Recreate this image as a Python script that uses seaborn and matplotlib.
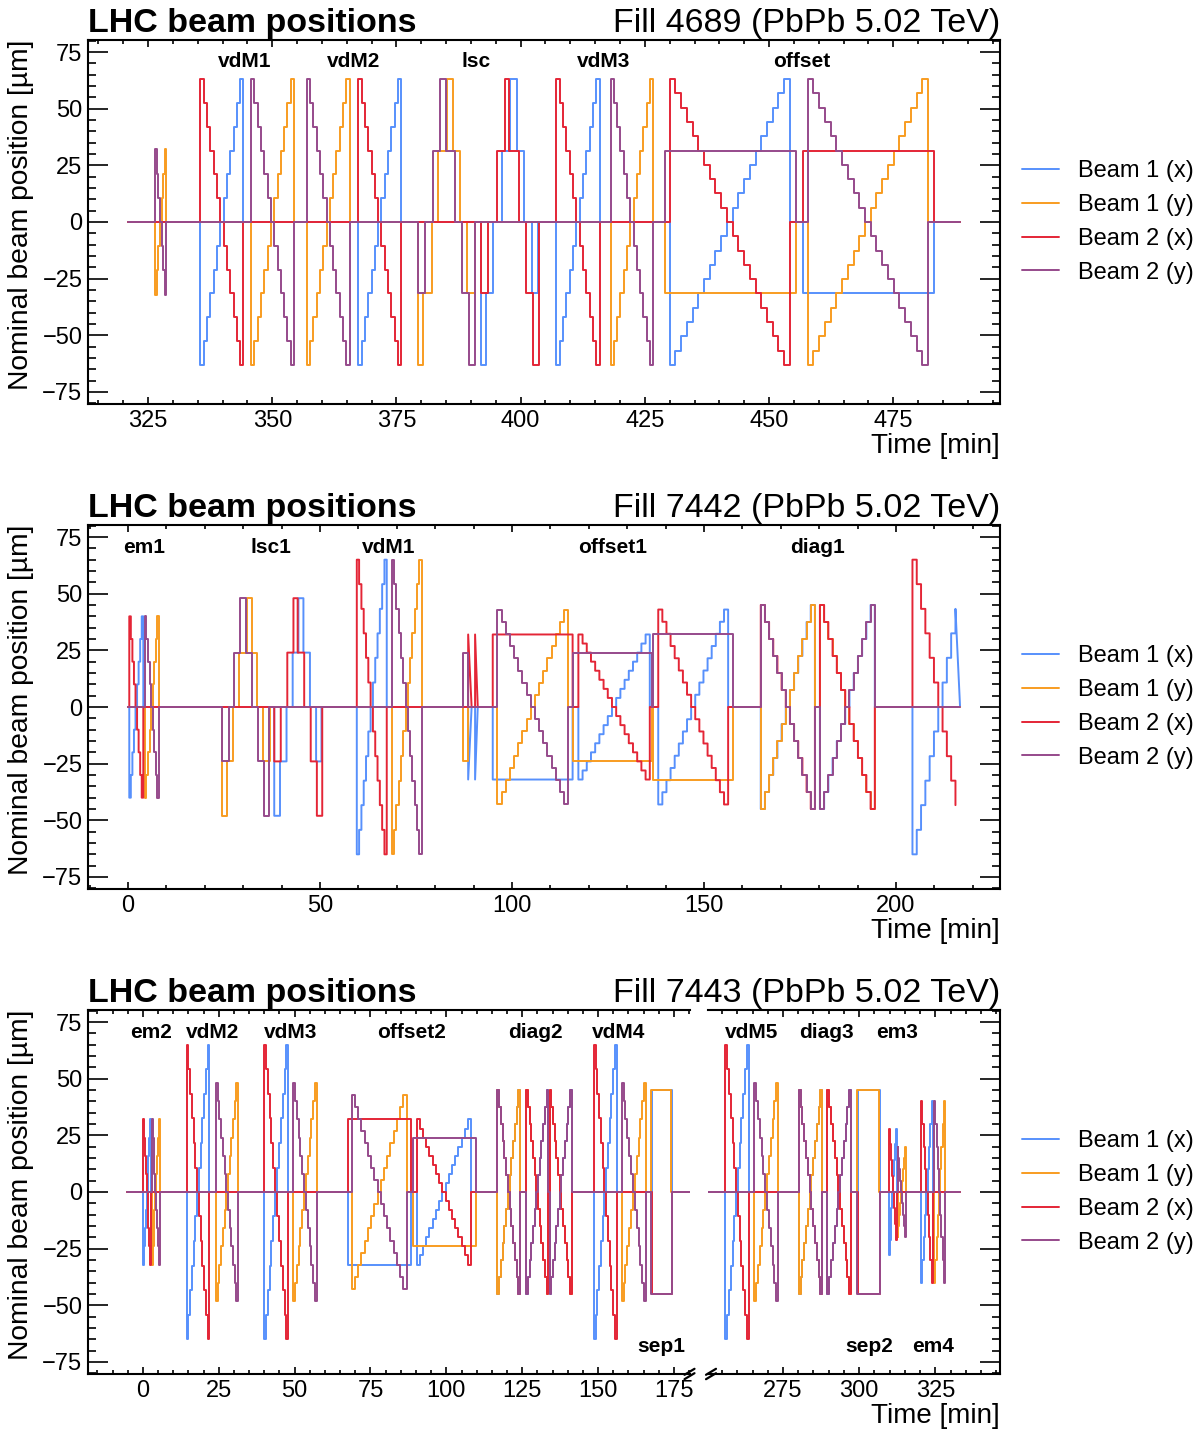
import numpy as np
import pandas as pd
import matplotlib
matplotlib.use("Agg")
import matplotlib.pyplot as plt
from matplotlib.ticker import MultipleLocator, FixedLocator
from matplotlib.lines import Line2D
import seaborn as sns

sns.set_style("ticks")
plt.rcParams["font.family"] = ["Liberation Sans", "DejaVu Sans"]
plt.rcParams.update({"text.color": "black", "axes.labelcolor": "black",
                     "xtick.color": "black", "ytick.color": "black",
                     "axes.edgecolor": "black"})

BEAMS = ["Beam 1 (x)", "Beam 1 (y)", "Beam 2 (x)", "Beam 2 (y)"]
COLORS = ["#5790fc", "#f89c20", "#e42536", "#964a8b"]
B1X, B1Y, B2X, B2Y = 0, 1, 2, 3

# ------------------------------------------------------------------ levels (µm)
EM_4689 = [32, 21, 10.5, 0, -10.5, -21, -32]
VDM_4689 = [63, 52.5, 42, 31.5, 21, 10.5, 0, -10.5, -21, -31.5, -42, -52.5, -63]
OFF_4689 = [63, 56.7, 50.4, 44.1, 37.8, 31.5, 25.2, 18.9, 12.6, 6.3, 0,
            -6.3, -12.6, -18.9, -25.2, -31.5, -37.8, -44.1, -50.4, -56.7, -63]
LSC_4689_B1 = [-63, -31.5, 0, 31.5, 63, 31.5, 0, -31.5]
LSC_4689_B2 = [-31.5, 0, 31.5, 63, 31.5, 0, -31.5, -63]
LSC_Y_T_4689_B1 = [379.3, 380.4, 382.1, 383.4, 385.1, 386.3, 387.8, 389.1]
LSC_Y_T_4689_B2 = [379.3, 380.7, 382.3, 383.8, 385.0, 386.8, 388.1, 389.6]
LSC_X_T_4689_B1 = [392.0, 393.1, 394.5, 396.3, 397.8, 399.2, 400.7, 402.2]
LSC_X_T_4689_B2 = [392.0, 393.5, 395.3, 396.8, 397.7, 399.7, 401.1, 402.5]

EM_7442 = [40, 30, 20, 10, 0, -10, -20, -30, -40]
VDM_7442 = [65, 54.2, 43.3, 32.5, 21.7, 10.8, 0, -10.8, -21.7, -32.5, -43.3, -54.2, -65]
LSC_7442_B1 = [-48, -24, 0, 24, 48, 24, 0, -24]
LSC_7442_B2 = [-24, 0, 24, 48, 24, 0, -24, -48]
LSC_Y_T_7442_B1 = [24.4, 25.9, 27.4, 28.9, 30.9, 32.2, 33.7, 35.2]
LSC_Y_T_7442_B2 = [24.4, 26.2, 27.6, 29.2, 30.7, 32.4, 33.9, 35.4]
LSC_X_T_7442_B1 = [38.1, 39.6, 41.3, 42.9, 44.4, 45.7, 47.4, 49.0]
LSC_X_T_7442_B2 = [38.1, 39.8, 41.5, 43.1, 44.2, 45.9, 47.6, 49.2]
OFF43 = [43, 37.6, 32.3, 26.9, 21.5, 16.1, 10.8, 5.4, 0,
         -5.4, -10.8, -16.1, -21.5, -26.9, -32.3, -37.6, -43]
OFF32 = [32, 28, 24, 20, 16, 12, 8, 4, 0, -4, -8, -12, -16, -20, -24, -28, -32]
DIAG45 = [45, 37.5, 30, 22.5, 15, 7.5, 0, -7.5, -15, -22.5, -30, -37.5, -45]
FINAL_7442_B2 = [65, 54.2, 43.3, 32.5, 21.7, 10.8, 0, -10.8, -21.7, -32.5, -43.3]
FINAL_7442_B1 = [-65, -54.2, -43.3, -32.5, -21.7, -10.8, 0, 10.8, 21.7, 32.5, 43.3]

EM_7443 = [32, 24, 16, 8, 0, -8, -16, -24, -32]
VDMX_7443 = [65, 54.2, 43.3, 32.5, 21.7, 10.8, 0, -10.8, -21.7, -32.5, -43.3, -54.2, -65]
VDMY_7443 = [48, 40, 32, 24, 16, 8, 0, -8, -16, -24, -32, -40, -48]
EM3X_7443 = [28, 21, 14, 7, 0, -7, -14, -21]
EM3X_7443_B1 = [-28, -21, -14, -7, 0, 7, 14, 21, 28]
EM3Y_7443 = [20, 15, 10, 5, 0, -5, -10, -15, -20]
EM4_7443 = [40, 30, 20, 10, 0, -10, -20, -30, -40]


def rev(levels):
    return levels[::-1]


# ------------------------------------------------------------------ scan schedules
# (beam, start time(s), end time, levels, after)
EVENTS_4689 = [
    (B2Y, 326.4, 328.7, EM_4689, "zero"), (B1Y, 326.4, 328.7, rev(EM_4689), "zero"),
    (B2X, 335.5, 344.2, VDM_4689, "zero"), (B1X, 335.5, 344.2, rev(VDM_4689), "zero"),
    (B2Y, 345.7, 354.4, VDM_4689, "zero"), (B1Y, 345.7, 354.4, rev(VDM_4689), "zero"),
    (B2Y, 356.9, 365.6, VDM_4689, "zero"), (B1Y, 356.9, 365.6, rev(VDM_4689), "zero"),
    (B2X, 367.3, 376.0, VDM_4689, "zero"), (B1X, 367.3, 376.0, rev(VDM_4689), "zero"),
    (B1Y, LSC_Y_T_4689_B1, 390.8, LSC_4689_B1, "zero"),
    (B2Y, LSC_Y_T_4689_B2, 390.8, LSC_4689_B2, "zero"),
    (B1X, LSC_X_T_4689_B1, 403.5, LSC_4689_B1, "zero"),
    (B2X, LSC_X_T_4689_B2, 403.7, LSC_4689_B2, "zero"),
    (B2X, 407.2, 415.9, VDM_4689, "zero"), (B1X, 407.2, 415.9, rev(VDM_4689), "zero"),
    (B2Y, 418.1, 426.7, VDM_4689, "zero"), (B1Y, 418.1, 426.7, rev(VDM_4689), "zero"),
    (B1Y, 429.0, 455.5, [-31.5], "zero"), (B2Y, 429.0, 455.5, [31.5], "zero"),
    (B2X, 430.0, 454.2, OFF_4689, "zero"), (B1X, 430.0, 454.2, rev(OFF_4689), "zero"),
    (B1X, 456.8, 483.2, [-31.5], "zero"), (B2X, 456.8, 483.2, [31.5], "zero"),
    (B2Y, 457.8, 482.0, OFF_4689, "zero"), (B1Y, 457.8, 482.0, rev(OFF_4689), "zero"),
]

EVENTS_7442 = [
    (B2X, 0.35, 4.0, EM_7442, "zero"), (B1X, 0.35, 4.0, rev(EM_7442), "zero"),
    (B2Y, 4.4, 8.1, EM_7442, "zero"), (B1Y, 4.4, 8.1, rev(EM_7442), "zero"),
    (B1Y, LSC_Y_T_7442_B1, 37.0, LSC_7442_B1, "zero"),
    (B2Y, LSC_Y_T_7442_B2, 36.8, LSC_7442_B2, "zero"),
    (B1X, LSC_X_T_7442_B1, 50.4, LSC_7442_B1, "zero"),
    (B2X, LSC_X_T_7442_B2, 50.6, LSC_7442_B2, "zero"),
    (B2X, 59.6, 67.4, VDM_7442, "zero"), (B1X, 59.6, 67.4, rev(VDM_7442), "zero"),
    (B2Y, 68.7, 76.5, VDM_7442, "zero"), (B1Y, 68.7, 76.5, rev(VDM_7442), "zero"),
    (B1Y, 87.3, 88.6, [-24], "zero"), (B2Y, 87.3, 88.6, [24], "zero"),
    (B2X, 88.6, 88.6, [32], 0.9), (B1X, 88.6, 88.6, [-32], 0.9),
    (B2X, 90.4, 90.4, [32], 0.7), (B1X, 90.4, 90.4, [-32], 0.7),
    (B2X, 95.0, 115.8, [32], "zero"), (B1X, 95.0, 115.8, [-32], "zero"),
    (B2Y, 96.2, 114.7, OFF43, "zero"), (B1Y, 96.2, 114.7, rev(OFF43), "zero"),
    (B2Y, 116.0, 136.4, [24], "zero"), (B1Y, 116.0, 136.4, [-24], "zero"),
    (B2X, 117.3, 135.9, OFF32, "zero"), (B1X, 117.3, 135.9, rev(OFF32), "zero"),
    (B2Y, 136.8, 157.6, [32], "zero"), (B1Y, 136.8, 157.6, [-32], "zero"),
    (B2X, 138.1, 156.3, OFF43, "zero"), (B1X, 138.1, 156.3, rev(OFF43), "zero"),
    (B2X, 164.8, 178.9, DIAG45, "zero"), (B2Y, 164.8, 178.9, DIAG45, "zero"),
    (B1X, 164.8, 178.9, rev(DIAG45), "zero"), (B1Y, 164.8, 178.9, rev(DIAG45), "zero"),
    (B2X, 180.2, 194.5, DIAG45, "zero"), (B1Y, 180.2, 194.5, DIAG45, "zero"),
    (B2Y, 180.2, 194.5, rev(DIAG45), "zero"), (B1X, 180.2, 194.5, rev(DIAG45), "zero"),
    (B2X, 204.3, 215.5, FINAL_7442_B2, "end"), (B1X, 204.3, 215.5, FINAL_7442_B1, 1.2),
]

EVENTS_7443 = [
    (B2X, 0.1, 2.7, EM_7443, "zero"), (B1X, 0.1, 2.7, rev(EM_7443), "zero"),
    (B2Y, 2.9, 5.6, EM_7443, "zero"), (B1Y, 2.9, 5.6, rev(EM_7443), "zero"),
    (B2X, 14.4, 21.9, VDMX_7443, "zero"), (B1X, 14.4, 21.9, rev(VDMX_7443), "zero"),
    (B2Y, 24.1, 31.4, VDMY_7443, "zero"), (B1Y, 24.1, 31.4, rev(VDMY_7443), "zero"),
    (B2X, 39.9, 47.9, VDMX_7443, "zero"), (B1X, 39.9, 47.9, rev(VDMX_7443), "zero"),
    (B2Y, 49.5, 57.3, VDMY_7443, "zero"), (B1Y, 49.5, 57.3, rev(VDMY_7443), "zero"),
    (B2X, 67.7, 88.2, [32], "zero"), (B1X, 67.7, 88.2, [-32], "zero"),
    (B2Y, 68.8, 86.9, OFF43, "zero"), (B1Y, 68.8, 86.9, rev(OFF43), "zero"),
    (B2Y, 88.9, 109.7, [24], "zero"), (B1Y, 88.9, 109.7, [-24], "zero"),
    (B2X, 90.2, 108.2, OFF32, "zero"), (B1X, 90.2, 108.2, rev(OFF32), "zero"),
    (B2X, 116.8, 124.3, DIAG45, "zero"), (B2Y, 116.8, 124.3, DIAG45, "zero"),
    (B1X, 116.8, 124.3, rev(DIAG45), "zero"), (B1Y, 116.8, 124.3, rev(DIAG45), "zero"),
    (B2X, 126.3, 133.6, DIAG45, "zero"), (B1Y, 126.3, 133.6, DIAG45, "zero"),
    (B2Y, 126.3, 133.6, rev(DIAG45), "zero"), (B1X, 126.3, 133.6, rev(DIAG45), "zero"),
    (B2X, 134.0, 141.3, DIAG45, "zero"), (B1Y, 134.0, 141.3, DIAG45, "zero"),
    (B2Y, 134.0, 141.3, rev(DIAG45), "zero"), (B1X, 134.0, 141.3, rev(DIAG45), "zero"),
    (B2X, 148.6, 156.1, VDMX_7443, "zero"), (B1X, 148.6, 156.1, rev(VDMX_7443), "zero"),
    (B2Y, 157.8, 165.8, VDMY_7443, "zero"), (B1Y, 157.8, 165.8, rev(VDMY_7443), "zero"),
    (B1Y, 167.6, 174.1, [45], "zero"), (B1X, 167.9, 174.5, [45], "zero"),
    (B2Y, 167.6, 174.3, [-45], "zero"), (B2X, 167.8, 174.4, [-45], "zero"),
    (B2X, 256.1, 263.7, VDMX_7443, "zero"), (B1X, 256.1, 263.7, rev(VDMX_7443), "zero"),
    (B2Y, 265.6, 273.4, VDMY_7443, "zero"), (B1Y, 265.6, 273.4, rev(VDMY_7443), "zero"),
    (B2X, 280.2, 287.9, DIAG45, "zero"), (B2Y, 280.2, 287.9, DIAG45, "zero"),
    (B1X, 280.2, 287.9, rev(DIAG45), "zero"), (B1Y, 280.2, 287.9, rev(DIAG45), "zero"),
    (B2X, 289.6, 297.3, DIAG45, "zero"), (B1Y, 289.6, 297.3, DIAG45, "zero"),
    (B2Y, 289.6, 297.3, rev(DIAG45), "zero"), (B1X, 289.6, 297.3, rev(DIAG45), "zero"),
    (B1Y, 299.4, 306.6, [45], "zero"), (B1X, 299.6, 306.9, [45], "zero"),
    (B2Y, 299.4, 306.7, [-45], "zero"), (B2X, 299.5, 306.8, [-45], "zero"),
    (B2X, 309.7, 312.3, EM3X_7443, "zero"), (B1X, 309.7, 312.3, EM3X_7443_B1, "zero"),
    (B2Y, 312.6, 315.2, EM3Y_7443, "zero"), (B1Y, 312.6, 315.2, rev(EM3Y_7443), "zero"),
    (B2X, 320.3, 324.2, EM4_7443, "zero"), (B1X, 320.3, 324.2, rev(EM4_7443), "zero"),
    (B2Y, 324.6, 328.2, EM4_7443, "zero"), (B1Y, 324.6, 328.2, rev(EM4_7443), "zero"),
]

SPAN_4689 = (321.0, 488.5)
SPAN_7442 = (0.0, 216.7)
SPAN_7443 = (-5.2, 333.2)

LABELS_4689 = ["vdM1", "vdM2", "lsc", "vdM3", "offset"]
LABEL_T_4689 = [344.5, 366.3, 391.0, 416.6, 456.6]
LABELS_7442 = ["em1", "lsc1", "vdM1", "offset1", "diag1"]
LABEL_T_7442 = [4.2, 37.2, 68.0, 126.3, 179.7]
LABELS_7443_TOP = ["em2", "vdM2", "vdM3", "offset2", "diag2", "vdM4", "vdM5", "diag3", "em3"]
LABEL_T_7443_TOP = [2.6, 23.1, 48.8, 88.7, 129.2, 156.9, 264.7, 289.1, 312.5]
LABELS_7443_BOT = ["sep1", "sep2", "em4"]
LABEL_T_7443_BOT = [171.0, 303.3, 324.4]

FILLS = ["Fill 4689 (PbPb 5.02 TeV)", "Fill 7442 (PbPb 5.02 TeV)", "Fill 7443 (PbPb 5.02 TeV)"]


def build_frame(events, span):
    t_start, t_end = span
    rows = []
    for b in range(4):
        evs = sorted([e for e in events if e[0] == b],
                     key=lambda e: e[1][0] if isinstance(e[1], list) else e[1])
        pts = [(t_start, 0.0)]
        ended = False
        for _, t0, t1, levels, after in evs:
            cur = pts[-1][1]
            if isinstance(t0, list):
                times = t0
            elif after == "zero":
                dt = (t1 - t0) / len(levels)
                times = [t0 + i * dt for i in range(len(levels))]
            else:
                n = len(levels) - 1
                dt = (t1 - t0) / n if n > 0 else 0.0
                times = [t0 + i * dt for i in range(n)] + [t1]
            for ti, v in zip(times, levels):
                pts += [(ti, cur), (ti, v)]
                cur = v
            if after == "zero":
                pts += [(t1, cur), (t1, 0.0)]
            elif after == "end":
                ended = True
                break
            else:
                pts += [(t1 + after, 0.0)]
        if not ended:
            pts.append((t_end, pts[-1][1]))
        for i, (t, v) in enumerate(pts):
            rows.append({"t": t, "pos": v, "beam": BEAMS[b], "idx": i})
    return pd.DataFrame(rows)


W, H = 1203, 1432


def rect(x0, y0, x1, y1):
    return [x0 / W, 1 - y1 / H, (x1 - x0) / W, (y1 - y0) / H]


fig = plt.figure(figsize=(W / 100, H / 100), dpi=100)
ax1 = fig.add_axes(rect(88, 40, 1000, 404))
ax2 = fig.add_axes(rect(88, 525, 1000, 889))
ax3a = fig.add_axes(rect(88, 1010, 690, 1374))
ax3b = fig.add_axes(rect(708, 1010, 1000, 1374))

TICK_FS = 17
LW = 1.4


def style_axis(ax, xlim, left=True, right=True):
    ax.set_xlim(*xlim)
    ax.set_ylim(-80.3, 80.3)
    ax.xaxis.set_major_locator(MultipleLocator(25))
    ax.xaxis.set_minor_locator(MultipleLocator(5))
    ax.yaxis.set_major_locator(MultipleLocator(25))
    ax.yaxis.set_minor_locator(MultipleLocator(5))
    ax.tick_params(axis="both", which="both", direction="in", top=True,
                   left=left, right=right, labelleft=left, labelright=False,
                   labelsize=TICK_FS, pad=4, colors="black", width=1.2)
    ax.tick_params(axis="x", which="major", length=5.0)
    ax.tick_params(axis="x", which="minor", length=2.6)
    ax.tick_params(axis="y", which="major", length=14.4)
    ax.tick_params(axis="y", which="minor", length=5.8)
    for s in ax.spines.values():
        s.set_linewidth(1.5)
        s.set_color("black")
    ax.spines["left"].set_visible(left)
    ax.spines["right"].set_visible(right)
    ax.set_xlabel("")
    ax.set_ylabel("")


def draw(ax, df):
    sns.lineplot(data=df, x="t", y="pos", hue="beam", hue_order=BEAMS,
                 palette=COLORS, sort=False, estimator=None, units="beam",
                 lw=LW, legend=False, ax=ax)


def add_legend(ax):
    handles = [Line2D([0], [0], color=c, lw=LW) for c in COLORS]
    ax.legend(handles, BEAMS, loc="center left", bbox_to_anchor=(1.0, 0.5),
              frameon=False, fontsize=17, handlelength=1.55, handletextpad=0.8,
              labelspacing=0.5, borderaxespad=0.55)


def titles(ax_left, ax_right, fill):
    ax_left.text(0.0, 1.004, "LHC beam positions", transform=ax_left.transAxes,
                 ha="left", va="bottom", fontsize=24.5, fontweight="bold")
    ax_right.text(1.0, 1.004, fill, transform=ax_right.transAxes,
                  ha="right", va="bottom", fontsize=24.5)


def scan_labels(ax, names, times, y):
    for n, t in zip(names, times):
        ax.text(t, y, n, ha="center", va="center", fontsize=15, fontweight="bold")


# ---- panel 1
df1 = build_frame(EVENTS_4689, SPAN_4689)
draw(ax1, df1)
style_axis(ax1, (312.9, 496.5))
scan_labels(ax1, LABELS_4689, LABEL_T_4689, 71.0)
titles(ax1, ax1, FILLS[0])
add_legend(ax1)

# ---- panel 2
df2 = build_frame(EVENTS_7442, SPAN_7442)
draw(ax2, df2)
style_axis(ax2, (-10.4, 227.1))
ax2.xaxis.set_major_locator(MultipleLocator(50))
ax2.xaxis.set_minor_locator(MultipleLocator(10))
scan_labels(ax2, LABELS_7442, LABEL_T_7442, 70.5)
titles(ax2, ax2, FILLS[1])
add_legend(ax2)

# ---- panel 3 (broken axis)
df3 = build_frame(EVENTS_7443, SPAN_7443)
draw(ax3a, df3)
draw(ax3b, df3)
style_axis(ax3a, (-18.1, 180.3), left=True, right=False)
style_axis(ax3b, (250.4, 346.2), left=False, right=True)
for ax in (ax3a, ax3b):
    lo, hi = ax.get_xlim()
    sel = [(n, t) for n, t in zip(LABELS_7443_TOP, LABEL_T_7443_TOP) if lo < t < hi]
    scan_labels(ax, [s[0] for s in sel], [s[1] for s in sel], 70.5)
    sel = [(n, t) for n, t in zip(LABELS_7443_BOT, LABEL_T_7443_BOT) if lo < t < hi]
    scan_labels(ax, [s[0] for s in sel], [s[1] for s in sel], -68.0)
titles(ax3a, ax3b, FILLS[2])
add_legend(ax3b)


# break marks (figure pixel coordinates)
def px(x, y):
    return x / W, 1 - y / H


for xc in (689.5, 711.0):
    for dy in (-2.2, 2.2):
        (xa, ya), (xb, yb) = px(xc - 5, 1374 + dy + 3), px(xc + 5, 1374 + dy - 3)
        fig.add_artist(Line2D([xa, xb], [ya, yb], transform=fig.transFigure,
                              color="black", lw=1.6))

# axis labels
for ax in (ax1, ax2, ax3a):
    ax.set_ylabel("Nominal beam position [µm]", loc="top", fontsize=20.3, labelpad=6)
for ax in (ax1, ax2, ax3b):
    ax.set_xlabel("Time [min]", loc="right", fontsize=20, labelpad=1)

fig.savefig("out.png", dpi=100)
